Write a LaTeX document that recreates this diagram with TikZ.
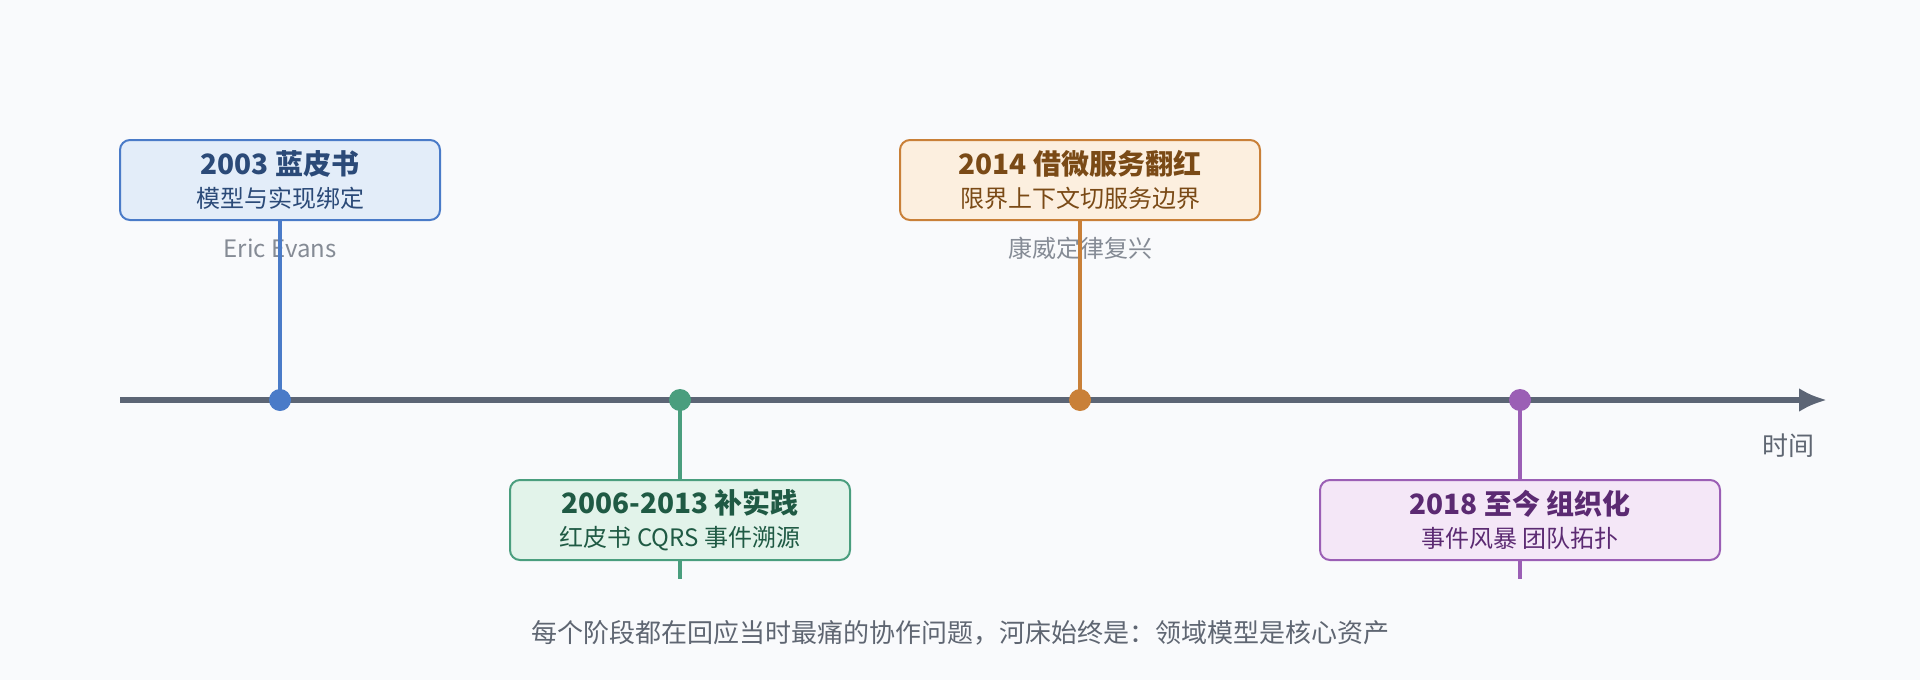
\documentclass[tikz,border=0pt]{standalone}
\usepackage{fontspec}
\setmainfont{Noto Sans CJK SC}
\usepackage{tikz}
\usetikzlibrary{arrows.meta,backgrounds}
\definecolor{bgcolor}{HTML}{F9FAFC}
\definecolor{axiscolor}{HTML}{5C6575}
\definecolor{notecolor}{HTML}{858B95}
\definecolor{captioncolor}{HTML}{5F6672}
\definecolor{blueline}{HTML}{4A7BC8}
\definecolor{bluefill}{HTML}{E3EDF9}
\definecolor{bluetext}{HTML}{2B4A78}
\definecolor{greenline}{HTML}{4A9E7E}
\definecolor{greenfill}{HTML}{E2F3EA}
\definecolor{greentext}{HTML}{1F5A44}
\definecolor{orangeline}{HTML}{C98038}
\definecolor{orangefill}{HTML}{FCEFDF}
\definecolor{orangetext}{HTML}{7A4A16}
\definecolor{purpleline}{HTML}{9B5FB5}
\definecolor{purplefill}{HTML}{F4E7F7}
\definecolor{purpletext}{HTML}{5B2A72}
\newcommand{\stemwidth}{1.75pt}
\newcommand{\axiswidth}{3pt}
\newcommand{\cardtext}[2]{{\fontsize{14}{16.5}\selectfont\bfseries #1}\\{\fontsize{12}{16.5}\selectfont #2}}

\begin{document}
\begin{tikzpicture}[x=0.5pt,y=-0.5pt,
  card/.style={draw, rounded corners=5pt, line width=1pt, minimum height=40pt, inner sep=0pt, align=center, font=\fontsize{12}{16.5}\selectfont},
  milestone/.style={circle, minimum size=11pt, inner sep=0pt},
  note/.style={text=notecolor, font=\fontsize{12}{14}\selectfont}]
\useasboundingbox (0,0) rectangle (1920,680);
\node[card, draw=blueline, fill=bluefill, text=bluetext, minimum width=160pt] (b1) at (280,180) {\cardtext{2003 蓝皮书}{模型与实现绑定}};
\node[card, draw=greenline, fill=greenfill, text=greentext, minimum width=170pt] (b2) at (680,520) {\cardtext{2006-2013 补实践}{红皮书 CQRS 事件溯源}};
\node[card, draw=orangeline, fill=orangefill, text=orangetext, minimum width=180pt] (b3) at (1080,180) {\cardtext{2014 借微服务翻红}{限界上下文切服务边界}};
\node[card, draw=purpleline, fill=purplefill, text=purpletext, minimum width=200pt] (b4) at (1520,520) {\cardtext{2018 至今 组织化}{事件风暴 团队拓扑}};
\node[milestone, fill=blueline] (d1) at (280,400) {};
\node[milestone, fill=greenline] (d2) at (680,400) {};
\node[milestone, fill=orangeline] (d3) at (1080,400) {};
\node[milestone, fill=purpleline] (d4) at (1520,400) {};
\coordinate (t0) at (120,400);
\coordinate (t1) at (1827,400);
\coordinate (e2) at (680,579);
\coordinate (e4) at (1520,579);
\begin{scope}[on background layer]
\fill[bgcolor] (0,0) rectangle (1920,680);
\node[note] (n1) at (280,248) {Eric Evans};
\node[note] (n3) at (1080,248) {康威定律复兴};
\draw[axiscolor, line width=\axiswidth, -{Latex[length=14pt,width=12pt]}] (t0) -- (t1);
\draw[blueline, line width=\stemwidth] (b1.south) -- (d1.center);
\draw[greenline, line width=\stemwidth] (d2.center) -- (e2);
\draw[orangeline, line width=\stemwidth] (b3.south) -- (d3.center);
\draw[purpleline, line width=\stemwidth] (d4.center) -- (e4);
\end{scope}
\node[text=captioncolor, font=\fontsize{13}{15}\selectfont] (time) at (1788,446) {时间};
\node[text=captioncolor, font=\fontsize{13}{15}\selectfont] (caption) at (960,633) {每个阶段都在回应当时最痛的协作问题，河床始终是：领域模型是核心资产};
\end{tikzpicture}
\end{document}
